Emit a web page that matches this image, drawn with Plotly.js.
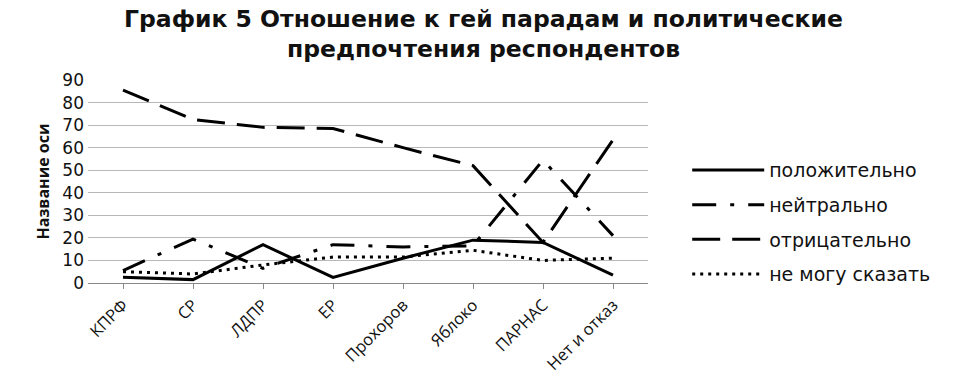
<!DOCTYPE html>
<html><head><meta charset="utf-8">
<script src="https://cdn.plot.ly/plotly-3.0.1.min.js"></script>
<style>body{margin:0;background:#fff}#chart{width:967px;height:381px}</style>
</head><body><div id="chart"></div>
<script>
const categories = ["КПРФ","СР","ЛДПР","ЕР","Прохоров","Яблоко","ПАРНАС","Нет и отказ"];
const positive = [2.5, 1.5, 17, 2.5, 11, 19, 18, 3.5];
const neutral  = [5.5, 19.5, 6.5, 17, 16, 16.5, 54.5, 21];
const negative = [85.5, 72.5, 69, 68.5, 60, 52, 18, 63.5];
const unsure   = [5, 4, 8, 11.5, 11.5, 14.5, 10, 11];
const seriesNames = ["положительно","нейтрально","отрицательно","не могу сказать"];
const yTicks = [0,10,20,30,40,50,60,70,80,90];

const styles = [
  {dash:"solid", width:3},
  {dash:"24px,14px,4px,14px", width:3},
  {dash:"28px,12px", width:3},
  {dash:"3px,5px", width:3}
];
const values = [positive, neutral, negative, unsure];
const traces = values.map((v,i)=>({
  x: categories, y: v, type:"scatter", mode:"lines", name: seriesNames[i],
  legendgroup: "g"+i,
  line:{color:"#000", width:styles[i].width, dash:styles[i].dash}
}));

const FONT = "DejaVu Sans, Open Sans, sans-serif";
const layout = {
  width:967, height:381,
  margin:{l:88, r:319, t:80, b:98},
  paper_bgcolor:"#fff", plot_bgcolor:"#fff",
  font:{family:FONT, color:"#111"},
  title:{text:"<b>График 5 Отношение к гей парадам и политические<br>предпочтения респондентов</b>",
    x:0.5, xanchor:"center", yref:"container", y:0.93, yanchor:"middle",
    font:{size:23.5, family:FONT, color:"#111"}},
  xaxis:{type:"category", range:[-0.5,7.5], tickangle:-45, showgrid:false,
    showline:true, linecolor:"#888", linewidth:1, ticks:"outside", ticklen:5, tickcolor:"#888",
    tickfont:{size:16.5, family:"Open Sans, sans-serif", color:"#111"}, fixedrange:true},
  yaxis:{range:[0,90], tickvals:yTicks, ticktext:yTicks.map(String), showgrid:true,
    gridcolor:"#b8b8b8", gridwidth:1, zeroline:false, showline:false,
    tickfont:{size:17, color:"#111"}, ticks:"", ticklabelstandoff:3,
    title:{text:"<b>Название оси</b>", font:{size:16, family:"Open Sans, sans-serif", color:"#111"}, standoff:8}},
  legend:{x:1.07, xanchor:"left", y:0.30, yanchor:"middle", font:{size:19, color:"#111"},
    tracegroupgap:7, itemwidth:72, bgcolor:"rgba(0,0,0,0)"},
  showlegend:true
};
Plotly.newPlot("chart", traces, layout, {staticPlot:true});
</script></body></html>
